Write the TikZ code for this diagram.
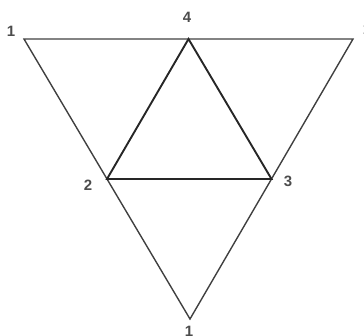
\documentclass[tikz,border=0pt]{standalone}
\usepackage{fontspec}
\setmainfont{Liberation Sans}
\usetikzlibrary{calc}

\begin{document}
\begin{tikzpicture}[
x=1pt, y=1pt,
edge/.style={draw=black!75, line width=1.4pt, line join=miter},
inner/.style={draw=black!85, line width=1.9pt},
lbl/.style={inner sep=0pt, font=\fontsize{15}{17}\selectfont\bfseries, text=black!70}
]
\clip (0,0) rectangle (364,335);
\useasboundingbox (0,0) rectangle (364,335);

% outer triangle
\coordinate (tl) at (24,296);
\coordinate (tr) at (353,296);
\coordinate (bot) at (190,16);
\coordinate (m4) at ($(tl)!0.5!(tr)$);
\coordinate (m2) at ($(tl)!0.5!(bot)$);
\coordinate (m3) at ($(tr)!0.5!(bot)$);

\node[lbl] (ltl) at (11,304) {1};
\node[lbl] (ltr) at (367,306) {1};
\node[lbl] (l4) at (187,318) {4};
\node[lbl] (l2) at (88,150) {2};
\node[lbl] (l3) at (288,154) {3};
\node[lbl] (lbot) at (189,4) {1};

\draw[edge] (tl) -- (tr) -- (bot) -- cycle;
\draw[inner] (m4) -- (m2) -- (m3) -- cycle;
\end{tikzpicture}
\end{document}
